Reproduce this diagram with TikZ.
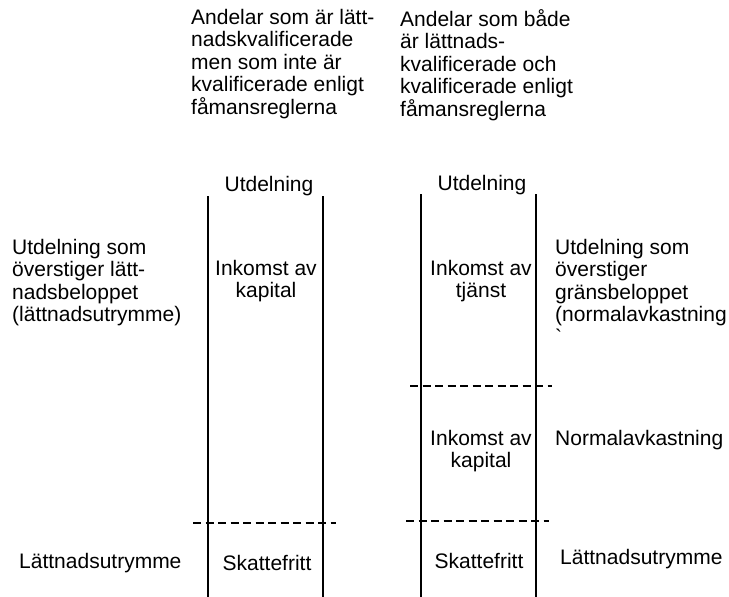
\documentclass[tikz,border=0pt]{standalone}
\usepackage{fontspec}
\setmainfont{Liberation Sans}
\usepackage{tikz}

\begin{document}
\begin{tikzpicture}[x=1pt, y=-1pt,
   txt/.style={inner sep=0pt, align=left, anchor=north west,
               font=\fontsize{21}{22.5}\selectfont},
   ctr/.style={inner sep=0pt, align=center, anchor=north,
               font=\fontsize{21}{22.5}\selectfont},
   col/.style={line width=1.3pt},
   cut/.style={line width=1.3pt, dash pattern=on 8pt off 4.5pt}]

  \useasboundingbox (0,0) rectangle (729,597);

  \node[txt] (andelA) at (191,9)
       {Andelar som är lätt-\\nadskvalificerade\\men som inte är\\kvalificerade enligt\\fåmansreglerna};
  \node[txt] (andelB) at (400,9)
       {Andelar som både\\är lättnads-\\kvalificerade och\\kvalificerade enligt\\fåmansreglerna};

  \node[ctr, anchor=base] (utdA) at (269,191) {Utdelning};
  \node[ctr, anchor=base] (utdB) at (482,190) {Utdelning};

  \node[txt] (overA) at (12,239)
       {Utdelning som\\överstiger lätt-\\nadsbeloppet\\(lättnadsutrymme)};
  \node[ctr] (inkA) at (266,260) {Inkomst av\\kapital};
  \node[ctr] (inkB) at (481,260) {Inkomst av\\tjänst};
  \node[txt] (overB) at (555,239)
       {Utdelning som\\överstiger\\gränsbeloppet\\(normalavkastning\\\textasciigrave};

  \node[ctr] (inkC) at (481,430) {Inkomst av\\kapital};
  \node[txt, anchor=base west] (normB) at (555,445) {Normalavkastning};

  \node[txt, anchor=base west] (lattA) at (19,568) {Lättnadsutrymme};
  \node[ctr, anchor=base] (skatA) at (267,570) {Skattefritt};
  \node[ctr, anchor=base] (skatB) at (479,568) {Skattefritt};
  \node[txt, anchor=base west] (lattB) at (560,564) {Lättnadsutrymme};

  \draw[col] (208,196) -- (208,597);
  \draw[col] (323,196) -- (323,597);
  \draw[col] (421,194) -- (421,597);
  \draw[col] (536,194) -- (536,597);

  \draw[cut] (193,523) -- (336,523);
  \draw[cut] (410,386) -- (552,386);
  \draw[cut] (406,521) -- (549,521);
\end{tikzpicture}
\end{document}
